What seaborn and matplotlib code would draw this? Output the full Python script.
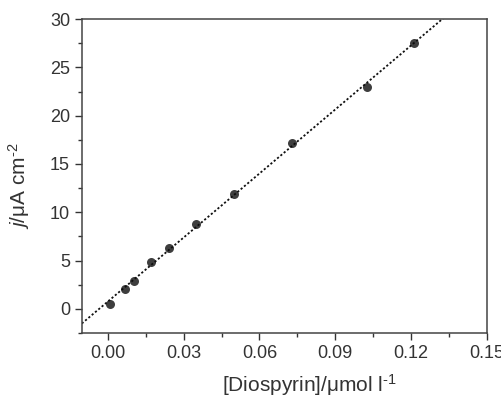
import matplotlib
matplotlib.use("Agg")
import matplotlib.pyplot as plt
import pandas as pd
import seaborn as sns
from matplotlib.ticker import AutoMinorLocator

# Data
concentration = [0.001, 0.0067, 0.0105, 0.017, 0.024, 0.035, 0.050, 0.073, 0.1027, 0.121]
current_density = [0.5, 2.1, 2.85, 4.9, 6.3, 8.8, 11.9, 17.2, 23.0, 27.5]
x_ticks = [0.00, 0.03, 0.06, 0.09, 0.12, 0.15]
y_ticks = [0, 5, 10, 15, 20, 25, 30]


def main():
    df = pd.DataFrame({"conc": concentration, "j": current_density})

    sns.set_style("ticks")
    plt.rcParams["font.family"] = ["Liberation Sans", "DejaVu Sans"]
    plt.rcParams["mathtext.fontset"] = "custom"
    plt.rcParams["mathtext.it"] = "Liberation Sans:italic"
    plt.rcParams["mathtext.rm"] = "Liberation Sans"

    fig, ax = plt.subplots(figsize=(5.02, 3.97), dpi=100)
    ax.set(xlim=(-0.0103, 0.15), ylim=(-2.5, 30))

    # Points and fitted line, extended across the axes
    sns.regplot(data=df, x="conc", y="j", ax=ax, ci=None, truncate=False,
                scatter_kws={"s": 42, "color": "#0d0d0d", "linewidths": 0,
                             "zorder": 3},
                line_kws={"color": "#111111", "linestyle": (0, (1.2, 1.2)),
                          "linewidth": 1.3})
    ax.set(xlim=(-0.0103, 0.15), ylim=(-2.5, 30))

    # Ticks
    ax.set_xticks(x_ticks)
    ax.set_xticklabels([f"{v:.2f}" for v in x_ticks])
    ax.set_yticks(y_ticks)
    ax.xaxis.set_minor_locator(AutoMinorLocator(2))
    ax.yaxis.set_minor_locator(AutoMinorLocator(2))
    ax.tick_params(which="major", direction="out", length=5, width=1,
                   labelsize=13, colors="#333333", labelcolor="#333333")
    ax.tick_params(which="minor", direction="out", length=3, width=1,
                   colors="#333333")
    for spine in ax.spines.values():
        spine.set_visible(True)
        spine.set_color("#444444")
        spine.set_linewidth(1.1)

    ax.set_xlabel("[Diospyrin]/\u03bcmol l$^{\\text{-1}}$", fontsize=15,
                  color="#333333")
    ax.set_ylabel("$j$/\u03bcA cm$^{\\text{-2}}$", fontsize=15,
                  color="#333333")
    ax.xaxis.set_label_coords(0.563, -0.125)
    ax.yaxis.set_label_coords(-0.123, 0.47)

    fig.subplots_adjust(left=0.163, right=0.97, top=0.952, bottom=0.161)
    fig.savefig("out.png", dpi=100)


if __name__ == "__main__":
    main()
